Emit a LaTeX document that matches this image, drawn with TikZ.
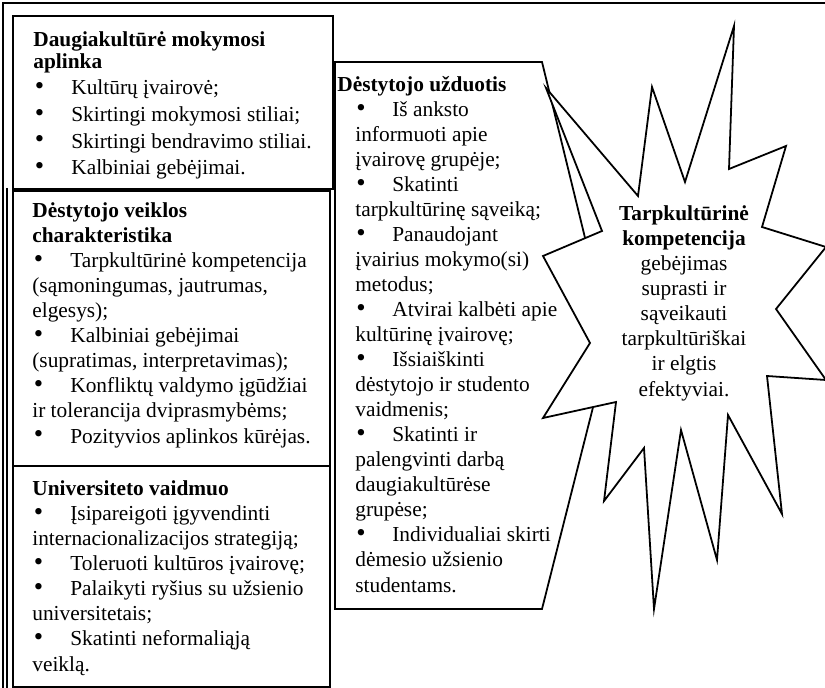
\documentclass[tikz,border=0pt]{standalone}
\usepackage{fontspec}
\setmainfont{Liberation Serif}
% one drawing unit of the picture
\newlength\pu
\setlength\pu{0.5618pt}
% a slightly heavier bullet, as a word processor sets it
\newcommand\bdot{\raisebox{0.3pt}{\fontsize{15}{15}\selectfont •}}
% bullet with its tab, for the left column and for the middle panel
\newcommand\bitem{\makebox[38\pu][l]{\hspace{1.5\pu}\bdot}}
\newcommand\mitem{\makebox[37\pu][l]{\hspace{1\pu}\bdot}}
\begin{document}
\begin{tikzpicture}[x=0.5618pt, y=-0.5618pt,
  txt/.style={font=\fontsize{12}{14.05}\selectfont, inner sep=0pt, align=left},
  frameline/.style={line width=0.9pt},
  boxline/.style={line width=1pt},
  panel/.style={draw, boxline, anchor=north west, inner sep=0pt},
]
\useasboundingbox (0,0) rectangle (825,688);
\begin{scope}
\clip (0,0) rectangle (825,688);

% page frame
\coordinate (fbl) at (3,700);
\coordinate (ftl) at (3,3);
\coordinate (ftr) at (830,3);
\draw[frameline] (fbl) -- (ftl) -- (ftr);
\coordinate (cl1) at (7,188);
\coordinate (cl2) at (7,700);
\draw[frameline] (cl1) -- (cl2);

% left column
\node[panel, line width=1.3pt, minimum width=320\pu, minimum height=173\pu] (box1) at (12,15) {};
\node[panel, minimum width=317\pu, minimum height=275\pu] (box2) at (12,190) {};
\node[panel, minimum width=317\pu, minimum height=221\pu] (box3) at (12,465) {};

% text blocks are placed by the baseline of their last line
\node[txt, font=\fontsize{12}{15}\selectfont, anchor=base west] (t1) at (33,175) {%
\textbf{Daugiakultūrė mokymosi}\\[-4.7\pu]
\textbf{aplinka}\\
\bitem Kultūrų įvairovė;\\
\bitem Skirtingi mokymosi stiliai;\\
\bitem Skirtingi bendravimo stiliai.\\
\bitem Kalbiniai gebėjimai.};

\node[txt, anchor=base west] (t2) at (32,443) {%
\textbf{Dėstytojo veiklos}\\
\textbf{charakteristika}\\
\bitem Tarpkultūrinė kompetencija\\
(sąmoningumas, jautrumas,\\
elgesys);\\
\bitem Kalbiniai gebėjimai\\
(supratimas, interpretavimas);\\
\bitem Konfliktų valdymo įgūdžiai\\
ir tolerancija dviprasmybėms;\\
\bitem Pozityvios aplinkos kūrėjas.};

\node[txt, anchor=base west] (t3) at (32,671) {%
\textbf{Universiteto vaidmuo}\\
\bitem Įsipareigoti įgyvendinti\\
internacionalizacijos strategiją;\\
\bitem Toleruoti kultūros įvairovę;\\
\bitem Palaikyti ryšius su užsienio\\
universitetais;\\
\bitem Skatinti neformaliąją\\
veiklą.};

% middle panel, pointing towards the star
\coordinate (m1) at (335,62);
\coordinate (m2) at (542,62);
\coordinate (m3) at (610,340);
\coordinate (m4) at (542,609);
\coordinate (m5) at (335,609);
\draw[boxline] (m1) -- (m2) -- (m3) -- (m4) -- (m5) -- cycle;

\node[txt, anchor=base west] (tm) at (355,592) {%
\hspace*{-18\pu}\textbf{Dėstytojo užduotis}\\
\mitem Iš anksto\\
informuoti apie\\
įvairovę grupėje;\\
\mitem Skatinti\\
tarpkultūrinę sąveiką;\\
\mitem Panaudojant\\
įvairius mokymo(si)\\
metodus;\\
\mitem Atvirai kalbėti apie\\
kultūrinę įvairovę;\\
\mitem Išsiaiškinti\\
dėstytojo ir studento\\
vaidmenis;\\
\mitem Skatinti ir\\
palengvinti darbą\\
daugiakultūrėse\\
grupėse;\\
\mitem Individualiai skirti\\
dėmesio užsienio\\
studentams.};

% the star
\draw[boxline, fill=white, line join=miter]
  (734,26) -- (729,169) -- (786,146) -- (762,227) -- (826,247) -- (776,309)
  -- (826,380) -- (767,376) -- (782,514) -- (728,415) -- (717,560) -- (681,430)
  -- (654,609) -- (644,448) -- (604,501) -- (616,402) -- (543,418) -- (590,343)
  -- (543,256) -- (602,231) -- (546,88) -- (638,196) -- (652,87) -- (685,182)
  -- cycle;

\node[txt, align=center, anchor=base] (ts) at (684,396) {%
\textbf{Tarpkultūrinė}\\
\textbf{kompetencija}\\
gebėjimas\\
suprasti ir\\
sąveikauti\\
tarpkultūriškai\\
ir elgtis\\
efektyviai.};
\end{scope}
\end{tikzpicture}
\end{document}
